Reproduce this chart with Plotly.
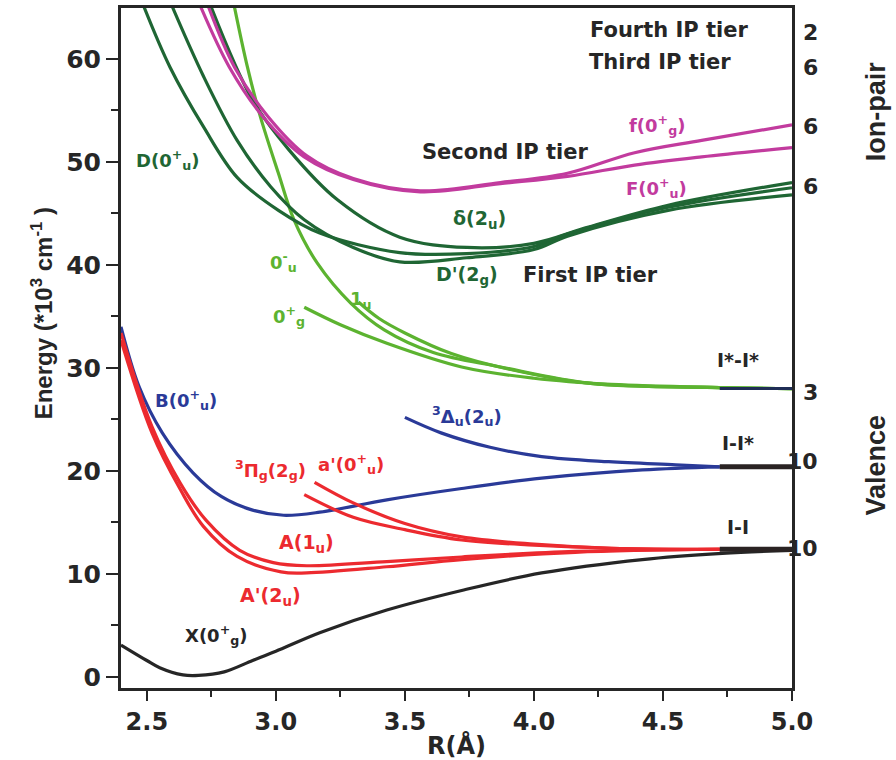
import plotly.graph_objects as go

# ---------------- data (R in Å, energy in 10^3 cm^-1) ----------------
X_r = [2.4, 2.5, 2.55, 2.64, 2.7, 2.8, 2.91, 3.0, 3.17, 3.43, 3.72, 4.03, 4.42, 4.73, 5.0]
X_e = [3.1, 1.6, 0.9, 0.2, 0.15, 0.5, 1.6, 2.5, 4.3, 6.5, 8.4, 10.1, 11.4, 12.0, 12.3]

B_r = [2.4, 2.47, 2.56, 2.68, 2.79, 2.91, 3.03, 3.17, 3.43, 3.72, 4.03, 4.42, 4.72]
B_e = [34.0, 28.2, 23.7, 19.8, 17.5, 16.2, 15.7, 16.0, 17.2, 18.3, 19.3, 20.1, 20.4]

D3_r = [3.50, 3.64, 3.83, 4.03, 4.29, 4.55, 4.72]
D3_e = [25.2, 23.7, 22.3, 21.4, 20.9, 20.6, 20.4]

Ap_r = [2.4, 2.52, 2.63, 2.72, 2.85, 3.02, 3.12, 3.43, 3.72, 4.16, 4.72]
Ap_e = [32.7, 23.7, 18.2, 14.6, 11.7, 10.2, 10.1, 10.7, 11.4, 12.1, 12.4]

A_r = [2.4, 2.52, 2.63, 2.73, 2.86, 2.99, 3.12, 3.43, 3.72, 4.16, 4.72]
A_e = [33.4, 24.3, 18.8, 15.2, 12.3, 11.1, 10.8, 11.2, 11.65, 12.2, 12.4]

a0_r = [3.15, 3.30, 3.50, 3.72, 4.0, 4.3, 4.72]
a0_e = [18.9, 16.9, 14.9, 13.6, 12.9, 12.5, 12.4]

Pi_r = [3.11, 3.30, 3.50, 3.72, 4.0, 4.3, 4.72]
Pi_e = [17.7, 15.5, 14.3, 13.3, 12.8, 12.5, 12.4]

g0p_r = [3.11, 3.25, 3.43, 3.72, 4.0, 4.3, 4.72, 5.0]
g0p_e = [35.9, 34.2, 32.4, 30.1, 29.0, 28.4, 28.1, 28.0]

u1_r = [3.32, 3.40, 3.50, 3.68, 3.90, 4.22, 4.72, 5.0]
u1_e = [36.4, 34.8, 33.4, 31.4, 29.9, 28.5, 28.1, 28.0]

u0m_r = [2.84, 2.89, 2.94, 3.01, 3.07, 3.16, 3.29, 3.42, 3.61, 3.87, 4.22, 4.72, 5.0]
u0m_e = [65.0, 59.2, 54.4, 48.9, 44.4, 40.2, 36.3, 33.7, 31.5, 30.1, 28.5, 28.1, 28.0]

Dg1_r = [2.49, 2.59, 2.72, 2.85, 3.01, 3.17, 3.48, 3.74, 4.0, 4.13, 4.52, 5.0]
Dg1_e = [65.0, 59.2, 53.4, 48.5, 45.3, 43.1, 41.2, 41.1, 41.8, 43.0, 45.6, 47.5]

Dg2_r = [2.60, 2.72, 2.85, 2.98, 3.11, 3.30, 3.48, 3.74, 4.0, 4.13, 4.52, 5.0]
Dg2_e = [65.0, 58.3, 52.1, 47.6, 44.4, 41.7, 40.3, 40.7, 41.5, 42.8, 45.3, 46.8]

dl_r = [2.75, 2.91, 3.05, 3.24, 3.48, 3.74, 4.0, 4.2, 4.52, 5.0]
dl_e = [65.0, 56.0, 51.2, 46.3, 42.7, 41.7, 42.1, 43.6, 45.8, 48.0]

f_r = [2.74, 2.84, 2.97, 3.12, 3.30, 3.56, 3.87, 4.13, 4.39, 4.65, 5.0]
f_e = [65.0, 59.2, 54.4, 50.6, 48.4, 47.2, 48.0, 48.9, 50.9, 52.1, 53.6]

F_r = [2.71, 2.82, 2.95, 3.11, 3.30, 3.56, 3.87, 4.13, 4.39, 4.65, 5.0]
F_e = [65.0, 59.2, 54.4, 50.5, 48.3, 47.1, 47.9, 48.6, 49.7, 50.5, 51.4]

# asymptotic limits
lim_r = [4.72, 5.0]
lim_II = [12.4, 12.4]
lim_IIs = [20.4, 20.4]
lim_IsIs = [28.0, 28.0]

x_ticks = [2.5, 3.0, 3.5, 4.0, 4.5, 5.0]
x_ticklabels = ["2.5", "3.0", "3.5", "4.0", "4.5", "5.0"]
y_ticks = [0, 10, 20, 30, 40, 50, 60]

BLACK = "#262626"
BLUE = "#2a3a98"
RED = "#ec2a2f"
LGREEN = "#5cb330"
DGREEN = "#1f6634"
MAG = "#c23b9e"

fig = go.Figure()

def curve(r, e, color, width=3.2):
    fig.add_trace(go.Scatter(x=r, y=e, mode="lines", line=dict(color=color, width=width, shape="spline", smoothing=1.0),
                             hoverinfo="skip", showlegend=False))

curve(X_r, X_e, BLACK)
curve(B_r, B_e, BLUE)
curve(D3_r, D3_e, BLUE)
curve(Ap_r, Ap_e, RED)
curve(A_r, A_e, RED)
curve(a0_r, a0_e, RED)
curve(Pi_r, Pi_e, RED)
curve(g0p_r, g0p_e, LGREEN)
curve(u1_r, u1_e, LGREEN)
curve(u0m_r, u0m_e, LGREEN)
curve(Dg1_r, Dg1_e, DGREEN)
curve(Dg2_r, Dg2_e, DGREEN)
curve(dl_r, dl_e, DGREEN)
curve(f_r, f_e, MAG)
curve(F_r, F_e, MAG)
curve(lim_r, lim_II, "#2a2323", 5)
curve(lim_r, lim_IIs, "#2a2323", 5)
curve(lim_r, lim_IsIs, "#1f2d55", 3)

WIDE = "DejaVu Sans"
NARROW = "Liberation Sans"

def lab(x, y, text, color, size=18, xref="x", yref="y", angle=0, family=WIDE):
    fig.add_annotation(x=x, y=y, xref=xref, yref=yref, text=text, showarrow=False, textangle=angle,
                       font=dict(family=family, size=size, color=color, weight="bold"))

lab(4.526, 62.8, "Fourth IP tier", BLACK, 21)
lab(4.49, 59.7, "Third IP tier", BLACK, 21)
lab(3.89, 51.0, "Second IP tier", BLACK, 21)
lab(4.22, 39.0, "First IP tier", BLACK, 21)
lab(2.58, 50.2, "D(0<sup>+</sup><sub>u</sub>)", DGREEN)
lab(4.475, 53.6, "f(0<sup>+</sup><sub>g</sub>)", MAG)
lab(4.475, 47.5, "F(0<sup>+</sup><sub>u</sub>)", MAG)
lab(3.79, 44.4, "δ(2<sub>u</sub>)", DGREEN, 19)
lab(3.74, 39.0, "D'(2<sub>g</sub>)", DGREEN, 19)
lab(3.03, 40.3, "0<sup>-</sup><sub>u</sub>", LGREEN)
lab(3.33, 36.6, "1<sub>u</sub>", LGREEN)
lab(3.05, 35.0, "0<sup>+</sup><sub>g</sub>", LGREEN)
lab(4.79, 30.8, "I*-I*", BLACK, 19)
lab(4.79, 22.7, "I-I*", BLACK, 19)
lab(4.79, 14.6, "I-I", BLACK, 19)
lab(3.74, 25.3, "<sup>3</sup>Δ<sub>u</sub>(2<sub>u</sub>)", BLUE)
lab(2.65, 26.9, "B(0<sup>+</sup><sub>u</sub>)", BLUE)
lab(2.98, 20.1, "<sup>3</sup>Π<sub>g</sub>(2<sub>g</sub>)", RED)
lab(3.29, 20.7, "a'(0<sup>+</sup><sub>u</sub>)", RED)
lab(3.12, 13.0, "A(1<sub>u</sub>)", RED, 19)
lab(2.98, 7.8, "A'(2<sub>u</sub>)", RED, 19)
lab(2.77, 4.1, "X(0<sup>+</sup><sub>g</sub>)", BLACK)

# right-hand degeneracy labels
for yy, t in [(62.6, "2"), (59.2, "6"), (53.4, "6"), (47.6, "6"), (27.6, "3"), (20.9, "10"), (12.5, "10")]:
    lab(1.042, yy, t, BLACK, size=22, xref="paper")
lab(1.15, 54.9, "Ion-pair", BLACK, size=27, xref="paper", angle=-90, family=NARROW)
lab(1.15, 20.6, "Valence", BLACK, size=27, xref="paper", angle=-90, family=NARROW)

# y-axis title (placed as in the reference, below the axis centre)
lab(-0.143, 0.551, "Energy (*10<sup>3</sup> cm<sup>-1</sup> )", BLACK, size=24, xref="paper", yref="paper",
    angle=-90, family=NARROW)

fig.update_layout(
    width=896, height=760,
    margin=dict(l=121, r=104, t=8, b=72),
    paper_bgcolor="white", plot_bgcolor="white",
    showlegend=False,
    font=dict(family=WIDE, color=BLACK),
)
fig.update_xaxes(
    range=[2.4, 5.0], tickvals=x_ticks, ticktext=x_ticklabels, automargin=False,
    showgrid=False, zeroline=False,
    showline=True, linecolor=BLACK, linewidth=3, mirror=True,
    ticks="outside", ticklen=10, tickwidth=2, tickcolor=BLACK,
    minor=dict(dtick=0.25, tick0=2.25, ticks="outside", ticklen=6, tickwidth=2, tickcolor=BLACK),
    tickfont=dict(family=WIDE, size=24, color=BLACK, weight="bold"),
    title=dict(text="R(Å)", font=dict(family=WIDE, size=24, color=BLACK, weight="bold"), standoff=4),
)
fig.update_yaxes(
    range=[-1.07, 64.95], tickvals=y_ticks, automargin=False,
    showgrid=False, zeroline=False,
    showline=True, linecolor=BLACK, linewidth=3, mirror=True,
    ticks="outside", ticklen=12, tickwidth=2, tickcolor=BLACK,
    minor=dict(dtick=5, tick0=5, ticks="outside", ticklen=7, tickwidth=2, tickcolor=BLACK),
    tickfont=dict(family=WIDE, size=25, color=BLACK, weight="bold"),
)

fig.write_html("out.html")
